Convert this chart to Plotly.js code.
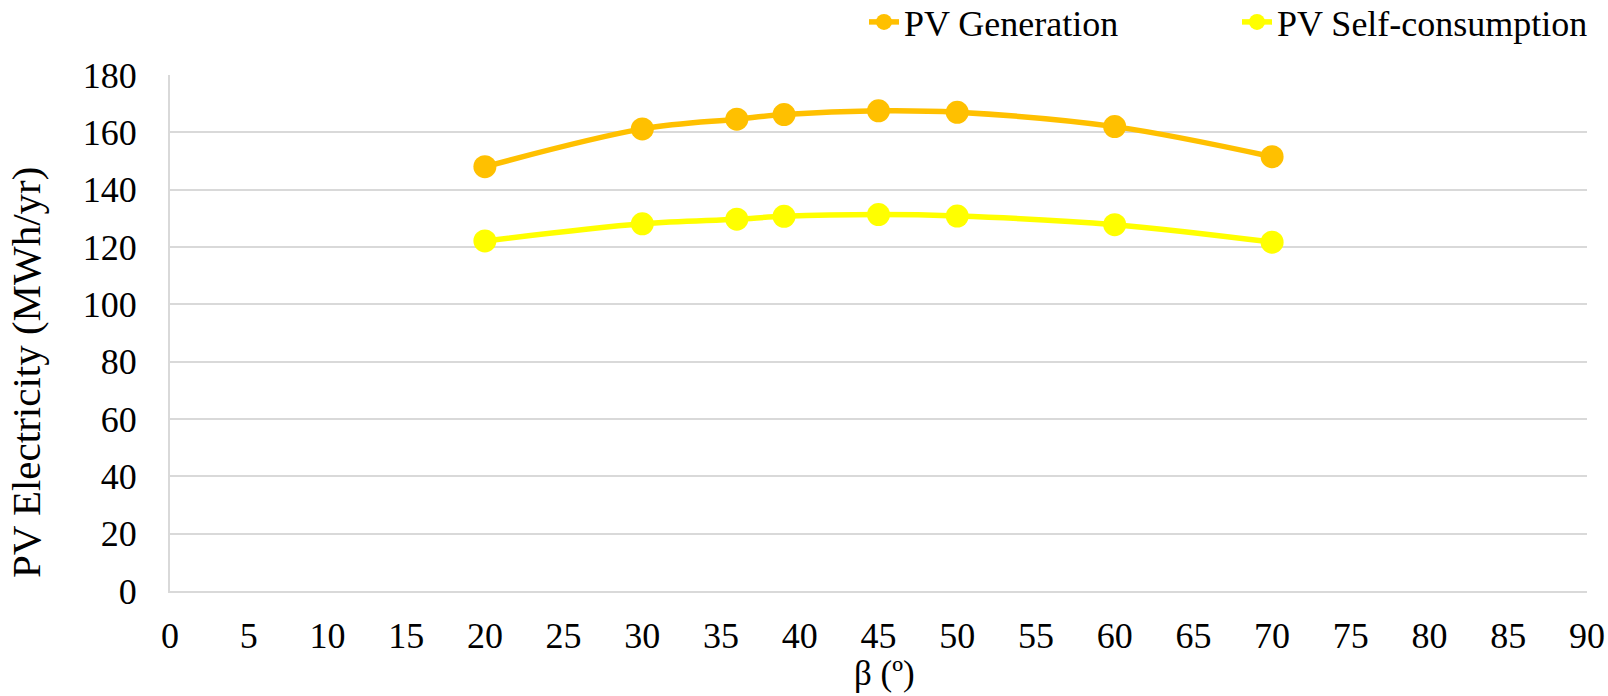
<!DOCTYPE html>
<html>
<head>
<meta charset="utf-8">
<script src="https://cdn.plot.ly/plotly-3.0.1.min.js"></script>
<style>html,body{margin:0;padding:0;background:#fff;}#chart{width:1608px;height:696px;}</style>
</head>
<body>
<div id="chart"></div>
<script>
const tiltAngles = [20, 30, 36, 39, 45, 50, 60, 70];
const pvGeneration = [148.0, 161.2, 164.6, 166.2, 167.5, 167.0, 162.0, 151.5];
const pvSelfConsumption = [122.1, 128.1, 129.7, 130.7, 131.3, 130.8, 127.8, 121.7];
const seriesNames = ["PV Generation", "PV Self-consumption"];
const xTitle = "β (º)";
const yTitle = "PV Electricity (MWh/yr)";

const FONT = "Liberation Serif, Times New Roman, serif";
const PLOT_W = 1417, PLOT_H = 516;

const traces = [
  {
    x: tiltAngles, y: pvGeneration, name: seriesNames[0],
    type: "scatter", mode: "lines+markers", legend: "legend",
    line: {color: "#FFC000", width: 5.5, shape: "spline"},
    marker: {color: "#FFC000", size: 23}
  },
  {
    x: tiltAngles, y: pvSelfConsumption, name: seriesNames[1],
    type: "scatter", mode: "lines+markers", legend: "legend2",
    line: {color: "#FFFF00", width: 5.5, shape: "spline"},
    marker: {color: "#FFFF00", size: 23}
  }
];

const legendCommon = {
  orientation: "h", yanchor: "middle", y: 1 + (75 - 22) / PLOT_H, xanchor: "right",
  font: {family: FONT, size: 36, color: "#000"},
  bgcolor: "rgba(0,0,0,0)", itemwidth: 30, borderwidth: 0
};

const layout = {
  width: 1608, height: 696,
  paper_bgcolor: "#fff", plot_bgcolor: "#fff",
  margin: {l: 170, r: 21, t: 75, b: 105, autoexpand: false},
  font: {family: FONT, size: 36, color: "#000"},
  showlegend: true,
  legend: Object.assign({}, legendCommon, {x: (1124 - 170) / PLOT_W}),
  legend2: Object.assign({}, legendCommon, {x: (1593 - 170) / PLOT_W}),
  xaxis: {
    range: [0, 90], dtick: 5, tick0: 0,
    showgrid: false, zeroline: false,
    showline: true, linecolor: "#d9d9d9", linewidth: 2,
    ticks: "", ticklabelstandoff: 12,
    tickfont: {family: FONT, size: 36, color: "#000"},
    fixedrange: true
  },
  yaxis: {
    range: [0, 180], dtick: 20, tick0: 0,
    showgrid: true, gridcolor: "#d9d9d9", gridwidth: 2,
    zeroline: false,
    showline: true, linecolor: "#d9d9d9", linewidth: 2,
    ticks: "", ticklabelstandoff: 24,
    tickfont: {family: FONT, size: 36, color: "#000"},
    fixedrange: true
  },
  annotations: [
    {
      text: xTitle, xref: "paper", yref: "paper",
      x: (884 - 170) / PLOT_W, xanchor: "center",
      y: -(673 - 591) / PLOT_H, yanchor: "middle",
      showarrow: false,
      font: {family: FONT, size: 35, color: "#000"}
    },
    {
      text: yTitle, xref: "paper", yref: "paper",
      x: -(170 - 26) / PLOT_W, xanchor: "center",
      y: (591 - 373) / PLOT_H, yanchor: "middle",
      textangle: -90, showarrow: false,
      font: {family: FONT, size: 41, color: "#000"}
    }
  ]
};

Plotly.newPlot("chart", traces, layout, {displayModeBar: false, staticPlot: true});
</script>
</body>
</html>
